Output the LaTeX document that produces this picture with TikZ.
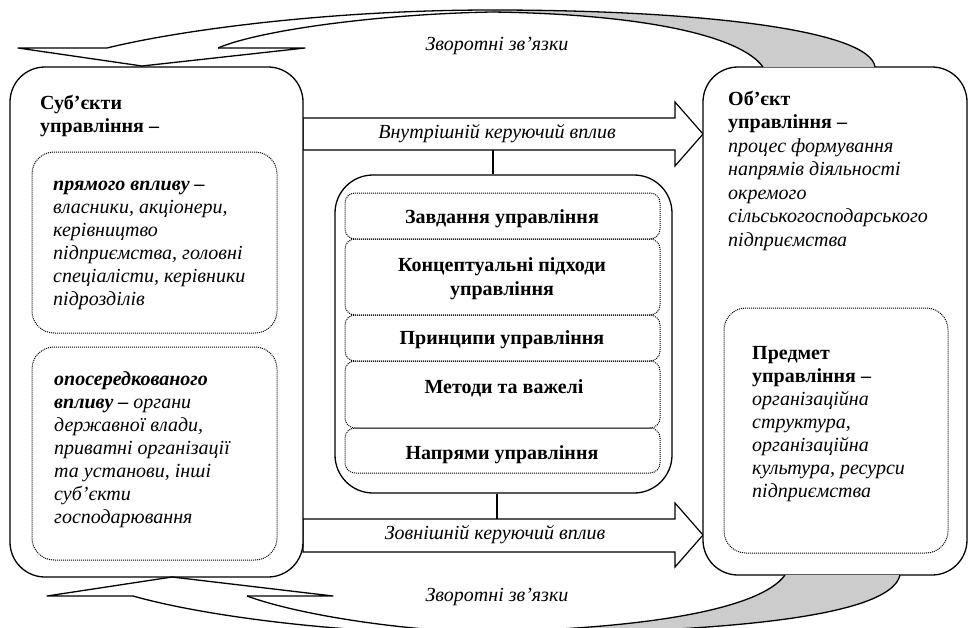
\documentclass[tikz,border=0pt]{standalone}
\usepackage{fontspec}
\setmainfont{Liberation Serif}
\begin{document}
\begin{tikzpicture}[x=1pt,y=-1pt,
  bigbox/.style={draw, line width=1.3pt, fill=white, inner sep=0pt},
  dotbox/.style={draw, line width=1pt, dash pattern=on 1pt off 1pt, inner sep=0pt},
  txt/.style={inner sep=0pt, align=left, font=\fontsize{20}{23.3}\selectfont},
  txtc/.style={inner sep=0pt, align=center, font=\fontsize{20}{24}\selectfont\bfseries},
  lbl/.style={inner sep=0pt, font=\fontsize{20}{23}\selectfont\itshape},
  blockarrow/.style={draw, line width=1.2pt, fill=white},
  curve/.style={draw, line width=1.3pt, line join=round},
  link/.style={draw, line width=1.2pt}]
\useasboundingbox (0,0) rectangle (969,627);

% block arrows (drawn first, boxes cover their left end)
\coordinate (uA1) at (303,118); \coordinate (uA2) at (675,118);
\coordinate (uA3) at (675,102); \coordinate (uA4) at (703,134);
\coordinate (uA5) at (675,166); \coordinate (uA6) at (675,150);
\coordinate (uA7) at (303,150);
\draw[blockarrow] (uA1) -- (uA2) -- (uA3) -- (uA4) -- (uA5) -- (uA6) -- (uA7) -- cycle;
\coordinate (lA1) at (303,519); \coordinate (lA2) at (675,519);
\coordinate (lA3) at (675,503); \coordinate (lA4) at (703,535);
\coordinate (lA5) at (675,567); \coordinate (lA6) at (675,552);
\coordinate (lA7) at (303,552);
\draw[blockarrow] (lA1) -- (lA2) -- (lA3) -- (lA4) -- (lA5) -- (lA6) -- (lA7) -- cycle;
\node[lbl] (inT) at (497,134) {Внутрішній керуючий вплив};
\node[lbl] (outT) at (495,535) {Зовнішній керуючий вплив};

% main boxes
\node[bigbox, rounded corners=35pt, minimum width=293pt, minimum height=510pt] (subj) at (156.5,322) {};
\node[bigbox, rounded corners=35pt, minimum width=264pt, minimum height=508pt] (obj) at (835,321) {};
\node[bigbox, rounded corners=38pt, minimum width=337pt, minimum height=318pt] (centre) at (503.5,334) {};

% inner dotted boxes
\node[dotbox, rounded corners=22pt, minimum width=245pt, minimum height=181pt] (direct) at (154.5,242.5) {};
\node[dotbox, rounded corners=22pt, minimum width=245pt, minimum height=213pt] (indirect) at (154.5,453.5) {};
\node[dotbox, rounded corners=22pt, minimum width=224pt, minimum height=245pt] (subject) at (836,430.5) {};

\node[dotbox, rounded corners=10pt, minimum width=315pt, minimum height=46pt] (r1) at (502.5,216) {};
\node[dotbox, rounded corners=10pt, minimum width=315pt, minimum height=76pt] (r2) at (502.5,277) {};
\node[dotbox, rounded corners=10pt, minimum width=315pt, minimum height=46pt] (r3) at (502.5,338) {};
\node[dotbox, rounded corners=10pt, minimum width=315pt, minimum height=67pt] (r4) at (502.5,394.5) {};
\node[dotbox, rounded corners=10pt, minimum width=315pt, minimum height=45pt] (r5) at (502.5,450.5) {};

% connectors
\coordinate (cU) at (493,150);
\draw[link] (cU) -- (cU |- centre.north);
\coordinate (cL) at (497,519);
\draw[link] (cL) -- (cL |- centre.south);

% texts (base anchor = baseline of the last line)
\node[txt, anchor=base west] (subjT) at (40,132.3) {\textbf{Суб’єкти}\\\textbf{управління –}};
\node[txt, anchor=base west, font=\fontsize{20}{23}\selectfont\itshape] (directT) at (53,305)
  {\textbf{прямого впливу –}\\власники, акціонери,\\керівництво\\підприємства, головні\\спеціалісти, керівники\\підрозділів};
\node[txt, anchor=base west, font=\fontsize{20}{23}\selectfont\itshape] (indirectT) at (54,523)
  {\textbf{опосередкованого}\\\textbf{впливу –} органи\\державної влади,\\приватні організації\\та установи, інші\\суб’єкти\\господарювання};
\node[txt, anchor=base west, font=\fontsize{20}{23.5}\selectfont\itshape] (objT) at (728,246)
  {\textup{\textbf{Об’єкт}}\\\textup{\textbf{управління –}}\\процес формування\\напрямів діяльності\\окремого\\сільськогосподарського\\підприємства};
\node[txt, anchor=base west, font=\fontsize{20}{23}\selectfont\itshape] (subjectT) at (752,497)
  {\textup{\textbf{Предмет}}\\\textup{\textbf{управління –}}\\організаційна\\структура,\\організаційна\\культура, ресурси\\підприємства};

\node[txtc, anchor=base] (t1) at (502,223) {Завдання управління};
\node[txtc, anchor=base] (t2) at (502,295) {Концептуальні підходи\\управління};
\node[txtc, anchor=base] (t3) at (502,344) {Принципи управління};
\node[txtc, anchor=base] (t4) at (504,393) {Методи та важелі};
\node[txtc, anchor=base] (t5) at (502,459) {Напрями управління};

% top feedback curved arrow
\fill[gray!40] (492,10) .. controls (700,10) and (870,30) .. (875,67) -- (763,67) .. controls (740,35) and (640,14) .. (492,12) -- cycle;
\draw[curve] (107,48) .. controls (180,30) and (330,10) .. (492,10) .. controls (700,10) and (870,30) .. (875,67);
\draw[curve] (218,48) .. controls (260,30) and (380,14) .. (492,12) .. controls (640,14) and (740,35) .. (763,67);
\coordinate (tipT) at (142,66);
\draw[curve] (107,48) -- (18,48) -- (tipT) -- (305,48) -- (218,48);
\node[lbl] (fbTop) at (497,46) {Зворотні зв’язки};

% bottom feedback curved arrow
\fill[gray!40] (470,634) .. controls (700,634) and (890,620) .. (900,575) -- (785,575) .. controls (760,610) and (640,630) .. (470,632) -- cycle;
\draw[curve] (133,596) .. controls (200,615) and (330,633) .. (470,634) .. controls (700,634) and (890,620) .. (900,575);
\draw[curve] (247,596) .. controls (290,612) and (380,628) .. (470,632) .. controls (640,630) and (760,610) .. (785,575);
\coordinate (tipB) at (172,577);
\draw[curve] (133,596) -- (47,596) -- (tipB) -- (333,596) -- (247,596);
\node[lbl] (fbBot) at (497,597) {Зворотні зв’язки};
\end{tikzpicture}
\end{document}
